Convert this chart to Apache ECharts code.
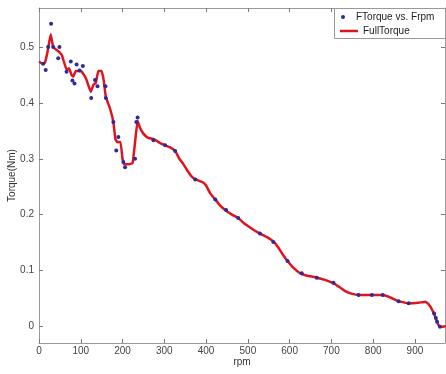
<!DOCTYPE html>
<html>
<head>
<meta charset="utf-8">
<script src="https://cdn.jsdelivr.net/npm/echarts@6/dist/echarts.min.js"></script>
<style>
  html, body { margin: 0; padding: 0; background: #fff; }
  #chart { width: 446px; height: 374px; }
</style>
</head>
<body>
<div id="chart"></div>
<script>
// fitted curve (FullTorque)
const lineRpm = [0, 8, 14, 20, 28, 34, 42, 50, 55, 62, 67, 72, 78, 82, 88, 100, 106, 113, 118, 124,
  130, 136, 142, 150, 155, 160, 170, 178, 183, 187, 195, 200, 204, 215, 224, 230, 236, 242, 250, 260,
  275, 290, 302, 315, 326, 336, 346, 356, 367, 378, 392, 400, 410, 422, 435, 448, 462, 477, 490, 501,
  515, 529, 545, 561, 572, 584, 595, 610, 625, 640, 665, 685, 705, 720, 733, 750, 765, 797, 823, 840,
  861, 885, 908, 925, 932, 937, 946, 953, 958, 963, 975];
const lineTorque = [0.474, 0.470, 0.472, 0.490, 0.523, 0.500, 0.495, 0.490, 0.485, 0.468, 0.459, 0.462, 0.450, 0.447, 0.457, 0.457, 0.452, 0.443, 0.432, 0.420,
  0.432, 0.436, 0.457, 0.457, 0.440, 0.411, 0.390, 0.366, 0.335, 0.330, 0.330, 0.300, 0.290, 0.290, 0.292, 0.330, 0.368, 0.355, 0.345, 0.338,
  0.335, 0.328, 0.324, 0.320, 0.314, 0.300, 0.290, 0.278, 0.267, 0.262, 0.258, 0.252, 0.238, 0.227, 0.215, 0.207, 0.200, 0.194, 0.185, 0.179,
  0.172, 0.166, 0.160, 0.152, 0.142, 0.128, 0.117, 0.104, 0.095, 0.091, 0.087, 0.083, 0.077, 0.070, 0.063, 0.058, 0.056, 0.056, 0.056, 0.052,
  0.045, 0.041, 0.042, 0.044, 0.040, 0.035, 0.022, 0.008, 0.000, -0.001, 0.000];

// measured samples (FTorque vs. Frpm)
const dotRpm = [10, 16, 22, 29, 34, 46, 49, 66, 76, 80, 85, 90, 97, 105, 125, 134, 140, 159, 160, 178,
  185, 190, 202, 206, 230, 233, 236, 274, 302, 326, 374, 422, 448, 477, 529, 561, 595, 629, 665, 705,
  765, 797, 823, 861, 885, 946, 950, 953, 960];
const dotTorque = [0.470, 0.459, 0.500, 0.542, 0.500, 0.480, 0.500, 0.456, 0.474, 0.440, 0.435, 0.469, 0.458, 0.466, 0.409, 0.441, 0.430, 0.430, 0.409, 0.366,
  0.315, 0.339, 0.294, 0.285, 0.300, 0.366, 0.374, 0.333, 0.324, 0.314, 0.263, 0.227, 0.208, 0.194, 0.166, 0.151, 0.117, 0.095, 0.087, 0.078,
  0.056, 0.056, 0.056, 0.045, 0.041, 0.023, 0.015, 0.008, -0.001];

const xTicks = [0, 100, 200, 300, 400, 500, 600, 700, 800, 900];
const yTicks = [0, 0.1, 0.2, 0.3, 0.4, 0.5];

let chart = echarts.init(document.getElementById("chart"));
let frame = { show: true, onZero: false, lineStyle: { color: "#999", width: 1 } };
let ticks = (vals) => ({ show: true, inside: true, length: 4, customValues: vals, lineStyle: { color: "#777" } });
let font = "Arial, 'Liberation Sans', sans-serif";

let option = {
  animation: false,
  grid: { left: 39, right: 1, top: 8, bottom: 31, containLabel: false, outerBoundsMode: "none" },
  xAxis: [
    {
      type: "value", min: 0, max: 972,
      name: "rpm", nameLocation: "middle", nameGap: 14, nameMoveOverlap: false,
      nameTextStyle: { fontSize: 10, color: "#333", fontFamily: font },
      axisLine: frame, axisTick: ticks(xTicks), splitLine: { show: false },
      axisLabel: { customValues: xTicks, fontSize: 10, color: "#444", margin: 3, fontFamily: font },
    },
    {
      type: "value", min: 0, max: 972, position: "top",
      axisLine: frame, axisTick: ticks(xTicks), splitLine: { show: false },
      axisLabel: { show: false },
    },
  ],
  yAxis: [
    {
      type: "value", min: -0.03, max: 0.57,
      name: "Torque(Nm)", nameLocation: "middle", nameGap: 22, nameRotate: 90, nameMoveOverlap: false,
      nameTextStyle: { fontSize: 10, color: "#333", fontFamily: font },
      axisLine: frame, axisTick: ticks(yTicks), splitLine: { show: false },
      axisLabel: { customValues: yTicks, fontSize: 10, color: "#444", margin: 5, fontFamily: font,
        formatter: (v) => String(Math.round(v * 10) / 10) },
    },
    {
      type: "value", min: -0.03, max: 0.57, position: "right",
      axisLine: frame, axisTick: ticks(yTicks), splitLine: { show: false },
      axisLabel: { show: false },
    },
  ],
  graphic: [
    {
      type: "rect", z: 3, left: 334, top: 8,
      shape: { width: 111, height: 30 },
      style: { fill: "#fff", stroke: "#999", lineWidth: 1 },
    },
  ],
  legend: [
    {
      data: ["FTorque vs. Frpm"], left: 341, top: 12, z: 5,
      itemWidth: 16, itemHeight: 4, itemGap: 0, padding: 0,
      textStyle: { fontSize: 10, color: "#222", fontFamily: font },
    },
    {
      data: [{ name: "FullTorque", icon: "rect" }], left: 340, top: 26, z: 5,
      itemWidth: 18, itemHeight: 2.5, padding: 0,
      textStyle: { fontSize: 10, color: "#222", fontFamily: font },
    },
  ],
  series: [
    {
      name: "FullTorque",
      type: "line",
      data: lineRpm.map((r, i) => [r, lineTorque[i]]),
      symbol: "none",
      smooth: 0.1,
      lineStyle: { color: "#e0141e", width: 2.5 },
      itemStyle: { color: "#e0141e" },
      z: 2,
    },
    {
      name: "FTorque vs. Frpm",
      type: "scatter",
      data: dotRpm.map((r, i) => [r, dotTorque[i]]),
      symbol: "circle",
      symbolSize: 4,
      symbolKeepAspect: true,
      itemStyle: { color: "#2b2b9c", opacity: 1 },
      z: 3,
    },
  ],
};
chart.setOption(option);
</script>
</body>
</html>
